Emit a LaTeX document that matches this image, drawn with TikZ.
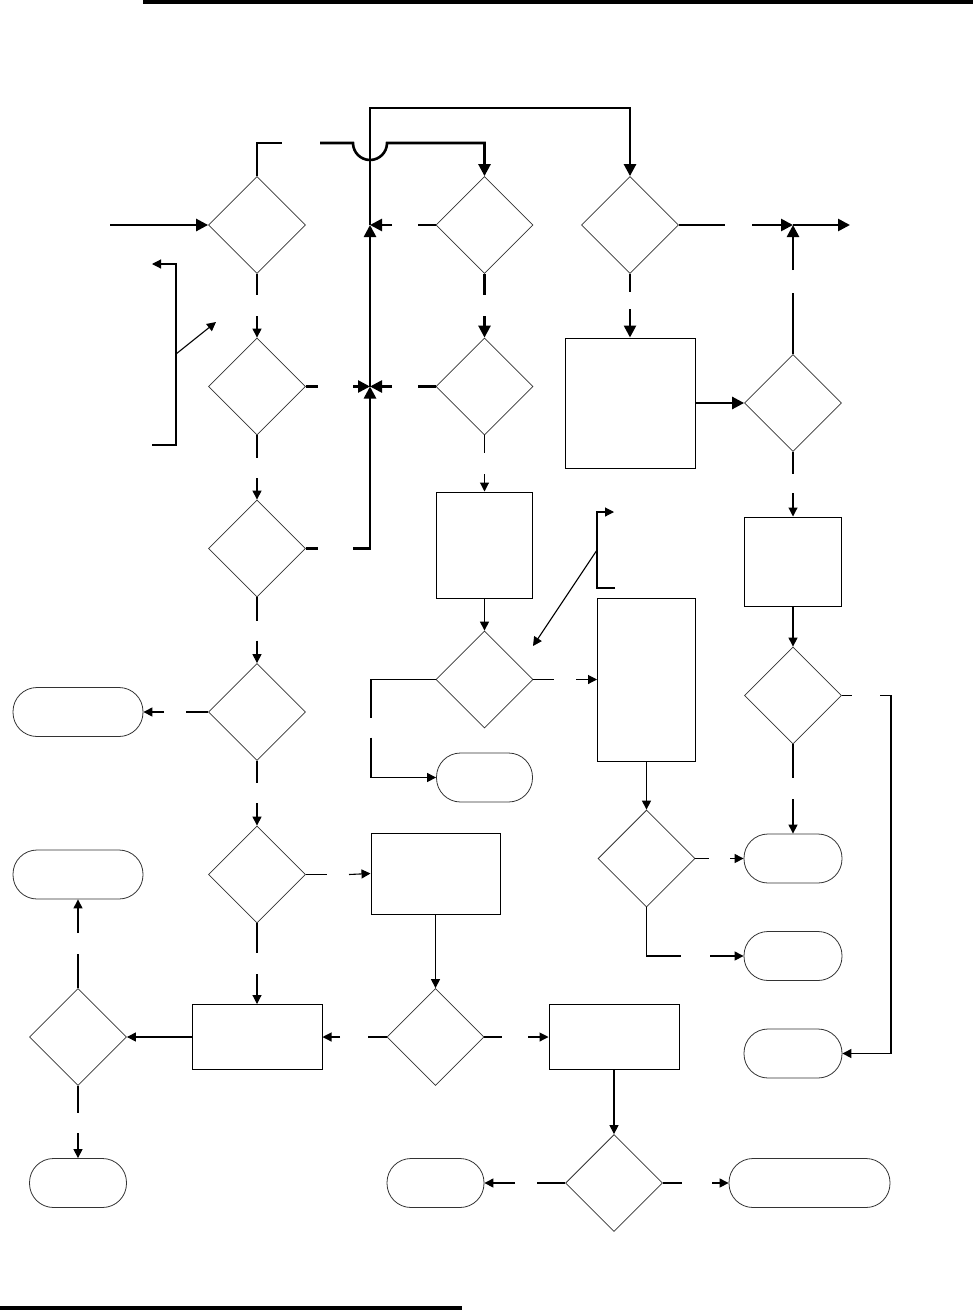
\documentclass[tikz,border=0pt]{standalone}
\usetikzlibrary{shapes.geometric,arrows.meta}
\begin{document}
\begin{tikzpicture}[x=1pt,y=-1pt,
  dec/.style={diamond,draw=black!80,line width=0.8pt,minimum width=97pt,minimum height=97pt,inner sep=0pt},
  box/.style={rectangle,draw,line width=1pt,inner sep=0pt},
  term/.style={rectangle,rounded corners=24pt,draw=black!80,line width=0.8pt,minimum width=#1,minimum height=49pt,inner sep=0pt},
  term/.default=97pt,
  ln/.style={line width=1.1pt},
  ar/.style={line width=1.1pt,-{Triangle[length=9pt,width=9pt]}},
  tk/.style={line width=2.6pt},
  tkar/.style={line width=2.6pt,-{Triangle[length=12pt,width=12pt]}},
  bar/.style={fill=black}
]
\useasboundingbox (0,0) rectangle (973,1314);
\fill[bar] (143,0) rectangle (973,4);
\fill[bar] (0,1306) rectangle (462,1310);

% decisions
\node[dec] (D1) at (257,225) {};
\node[dec] (D2) at (484.5,225) {};
\node[dec] (D3) at (630,225) {};
\node[dec] (D4) at (257,386.5) {};
\node[dec] (D5) at (484.5,386.5) {};
\node[dec] (D6) at (793,403) {};
\node[dec] (D7) at (257,548.5) {};
\node[dec] (D8) at (257,712) {};
\node[dec] (D9) at (257,874.5) {};
\node[dec] (D10) at (484.5,679.5) {};
\node[dec] (D11) at (793,695.5) {};
\node[dec] (D12) at (646.5,858.5) {};
\node[dec] (D13) at (78,1037) {};
\node[dec] (D14) at (435.5,1037) {};
\node[dec] (D15) at (614,1183) {};

% process boxes
\node[box,minimum width=130pt,minimum height=130pt] (R1) at (630,403) {};
\node[box,minimum width=96pt,minimum height=106pt] (R2) at (484.5,545) {};
\node[box,minimum width=98pt,minimum height=163pt] (R3) at (646.5,679.5) {};
\node[box,minimum width=97pt,minimum height=89pt] (R4) at (793,561.5) {};
\node[box,minimum width=129pt,minimum height=81pt] (R5) at (435.5,873.5) {};
\node[box,minimum width=130pt,minimum height=65pt] (R6) at (257,1037) {};
\node[box,minimum width=130pt,minimum height=65pt] (R7) at (614,1037) {};

% terminals
\node[term=130pt] (T1) at (78,712) {};
\node[term=130pt] (T2) at (78,874.5) {};
\node[term=96pt] (T3) at (484.5,777.5) {};
\node[term=98pt] (T4) at (793,858.5) {};
\node[term=98pt] (T5) at (793,956) {};
\node[term=98pt] (T6) at (793,1053.5) {};
\node[term] (T7) at (78,1183) {};
\node[term] (T8) at (435.5,1183) {};
\node[term=161pt] (T9) at (809.5,1183) {};

\coordinate (J1) at (370,386.5);
\coordinate (J2) at (370,225);
\coordinate (J3) at (793,225);

% thick connectors
\draw[tkar] (110,225) -- (D1.west);
\draw[tk] (D1.north) |- (282,143);
\draw[tkar] (320,143) -- (353,143) arc[start angle=180,end angle=360,radius=17pt] -- (484.5,143) -- (D2.north);
\draw[tk] (D2.west) -- (418,225);
\draw[tkar] (392,225) -- (J2);
\draw[tk] (D4.east) -- (318,386.5);
\draw[tkar] (353,386.5) -- (J1);
\draw[tk] (D5.west) -- (418,386.5);
\draw[tkar] (392,386.5) -- (J1);
\draw[tk] (D7.east) -- (318,548.5);
\draw[tkar] (353,548.5) -| (J1);
\draw[tkar] (J1) -- (J2);
\draw[tkar] (J2) -- (370,108) -| (D3.north);
\draw[tk] (D3.east) -- (725,225);
\draw[tkar] (752,225) -- (J3);
\draw[tkar] (J3) -- (850,225);
\draw[tk] (D6.north) -- (793,293);
\draw[tkar] (793,270) -- (J3);
\draw[tk] (D3.south) -- (630,292);
\draw[tkar] (630,309) -- (R1.north);
\draw[tkar] (R1.east) -- (D6.west);
\draw[tk] (D2.south) -- (484.5,295);
\draw[tkar] (484.5,316) -- (D5.north);

% thin connectors
\draw[ln] (D1.south) -- (257,295);
\draw[ar] (257,316) -- (D4.north);
\draw[ln] (D4.south) -- (257,457.5);
\draw[ar] (257,478) -- (D7.north);
\draw[ln] (D7.south) -- (257,620.5);
\draw[ar] (257,640.5) -- (D8.north);
\draw[ln] (D8.west) -- (186,712);
\draw[ar] (164,712) -- (T1.east);
\draw[ln] (D8.south) -- (257,782.5);
\draw[ar] (257,803) -- (D9.north);
\draw[ln] (D9.east) -- (327,874.5);
\draw[ar] (349,874.5) -- (R5.west);
\draw[ln] (D9.south) -- (257,953);
\draw[ar] (257,974) -- (R6.north);
\draw[ar] (R5.south) -- (D14.north);
\draw[ln] (D14.west) -- (368,1037);
\draw[ar] (340,1037) -- (R6.east);
\draw[ar] (R6.west) -- (D13.east);
\draw[ln] (D13.north) -- (78,954);
\draw[ar] (78,933) -- (T2.south);
\draw[ln] (D13.south) -- (78,1112.5);
\draw[ar] (78,1133) -- (T7.north);
\draw[ln] (D14.east) -- (502,1037);
\draw[ar] (528,1037) -- (R7.west);
\draw[ar] (R7.south) -- (D15.north);
\draw[ln] (D15.west) -- (537,1183);
\draw[ar] (515,1183) -- (T8.east);
\draw[ln] (D15.east) -- (682,1183);
\draw[ar] (712,1183) -- (T9.west);
\draw[ln] (D5.south) -- (484.5,453);
\draw[ar] (484.5,474) -- (R2.north);
\draw[ar] (R2.south) -- (D10.north);
\draw[ln] (D10.west) -| (371,717.5);
\draw[ar] (371,737.5) |- (T3.west);
\draw[ln] (D10.east) -- (554,679.5);
\draw[ar] (576,679.5) -- (R3.west);
\draw[ar] (R3.south) -- (D12.north);
\draw[ln] (D12.east) -- (709,858.5);
\draw[ar] (730,858.5) -- (T4.west);
\draw[ln] (D12.south) |- (681,956);
\draw[ar] (710,956) -- (T5.west);
\draw[ln] (D6.south) -- (793,474);
\draw[ar] (793,493) -- (R4.north);
\draw[ar] (R4.south) -- (D11.north);
\draw[ln] (D11.south) -- (793,778);
\draw[ar] (793,799) -- (T4.north);
\draw[ln] (D11.east) -- (852,695.5);
\draw[ar] (880,695.5) -- (891,695.5) |- (T6.east);

% annotation brackets
\draw[ar] (152,445) -- (176,445) -- (176,264) -- (152,264);
\draw[ar] (176,354) -- (216,322);
\draw[ar] (615,588) -- (597,588) -- (597,512) -- (614,512);
\draw[ar] (597,550) -- (533,646);
\end{tikzpicture}
\end{document}
